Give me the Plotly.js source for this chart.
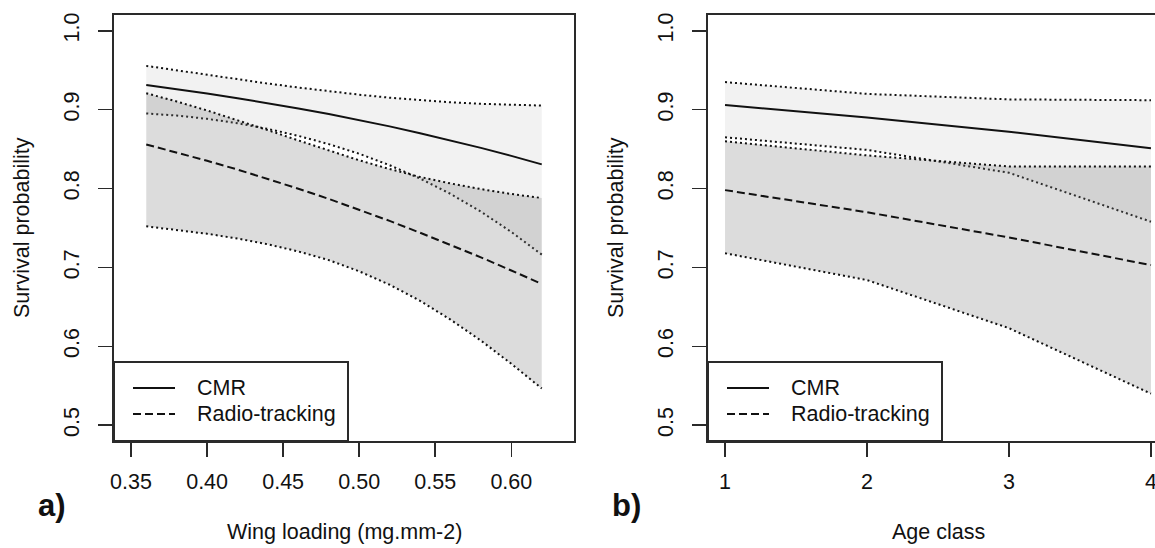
<!DOCTYPE html>
<html>
<head>
<meta charset="utf-8">
<script src="https://cdn.plot.ly/plotly-3.0.1.min.js"></script>
<style>html,body{margin:0;padding:0;background:#fff;}#chart{width:1155px;height:548px;}</style>
</head>
<body>
<div id="chart"></div>
<script>
// ---- Data ----
const wingX = [0.36, 0.38, 0.40, 0.42, 0.44, 0.46, 0.48, 0.50, 0.52, 0.54, 0.56, 0.58, 0.60, 0.62];
const cmrWingMean  = [0.9312, 0.9260, 0.9205, 0.9146, 0.9083, 0.9016, 0.8945, 0.8869, 0.8788, 0.8702, 0.8612, 0.8516, 0.8414, 0.8307];
const cmrWingUpper = [0.9555, 0.9497, 0.9440, 0.9384, 0.9331, 0.9281, 0.9234, 0.9190, 0.9152, 0.9120, 0.9093, 0.9074, 0.9060, 0.9052];
const cmrWingLower = [0.8952, 0.8925, 0.8884, 0.8828, 0.8756, 0.8668, 0.8563, 0.8441, 0.8296, 0.8127, 0.7933, 0.7707, 0.7450, 0.7163];
const rtWingMean   = [0.8559, 0.8459, 0.8352, 0.8241, 0.8122, 0.7998, 0.7869, 0.7731, 0.7590, 0.7440, 0.7287, 0.7128, 0.6961, 0.6792];
const rtWingUpper  = [0.9208, 0.9104, 0.8990, 0.8868, 0.8740, 0.8610, 0.8481, 0.8358, 0.8247, 0.8147, 0.8065, 0.7993, 0.7931, 0.7880];
const rtWingLower  = [0.7521, 0.7478, 0.7427, 0.7367, 0.7293, 0.7203, 0.7093, 0.6951, 0.6781, 0.6577, 0.6339, 0.6073, 0.5779, 0.5466];

const ageX = [1, 2, 3, 4];
const cmrAgeMean  = [0.906, 0.890, 0.872, 0.851];
const cmrAgeUpper = [0.935, 0.920, 0.913, 0.912];
const cmrAgeLower = [0.865, 0.849, 0.820, 0.758];
const rtAgeMean   = [0.798, 0.770, 0.738, 0.703];
const rtAgeUpper  = [0.860, 0.842, 0.828, 0.828];
const rtAgeLower  = [0.718, 0.684, 0.623, 0.540];

const wingTicks = [0.35, 0.40, 0.45, 0.50, 0.55, 0.60];
const ageTicks = [1, 2, 3, 4];
const yTicks = [0.5, 0.6, 0.7, 0.8, 0.9, 1.0];
const seriesNames = ['CMR', 'Radio-tracking'];
const xTitles = ['Wing loading (mg.mm-2)', 'Age class'];
const yTitle = 'Survival probability';
const panelLabels = ['a)', 'b)'];

// ---- Styling ----
const W = 1155, H = 548;
const FONT = 'Liberation Sans, Arial, sans-serif';
const FS = 21.5;
const INK = '#111';
const CMR_FILL = 'rgba(128,128,128,0.10)';
const RT_FILL = 'rgba(128,128,128,0.28)';
const DOT = '2px,3px';
const DASH = '8px,4px';
const px = v => v / W;
const py = v => 1 - v / H;

function band(x, up, lo, xa, ya, color) {
  return {x: x.concat(x.slice().reverse()), y: up.concat(lo.slice().reverse()),
    xaxis: xa, yaxis: ya, mode: 'lines', fill: 'toself', fillcolor: color,
    line: {width: 0}, hoverinfo: 'skip', showlegend: false};
}
function line(x, y, xa, ya, dash, name) {
  return {x: x, y: y, xaxis: xa, yaxis: ya, mode: 'lines', name: name,
    line: {color: INK, width: 2, dash: dash}, showlegend: false};
}

const traces = [];
function panel(x, cU, cM, cL, rU, rM, rL, xa, ya) {
  traces.push(band(x, cU, cL, xa, ya, CMR_FILL));
  traces.push(line(x, cU, xa, ya, DOT, 'CMR upper'));
  traces.push(line(x, cL, xa, ya, DOT, 'CMR lower'));
  traces.push(line(x, cM, xa, ya, 'solid', seriesNames[0]));
  traces.push(band(x, rU, rL, xa, ya, RT_FILL));
  traces.push(line(x, rU, xa, ya, DOT, 'RT upper'));
  traces.push(line(x, rL, xa, ya, DOT, 'RT lower'));
  traces.push(line(x, rM, xa, ya, DASH, seriesNames[1]));
}
panel(wingX, cmrWingUpper, cmrWingMean, cmrWingLower, rtWingUpper, rtWingMean, rtWingLower, 'x', 'y');
panel(ageX, cmrAgeUpper, cmrAgeMean, cmrAgeLower, rtAgeUpper, rtAgeMean, rtAgeLower, 'x2', 'y2');

const yDom = [py(441), py(15)];
const axCommon = {showgrid: false, zeroline: false, showline: true, linecolor: '#2a2a2a', linewidth: 2,
  ticks: 'outside', ticklen: 14, tickwidth: 1.6, tickcolor: '#2a2a2a', ticklabeloverflow: 'allow',
  tickfont: {family: FONT, size: FS, color: INK}};

const layout = {
  width: W, height: H, margin: {l: 0, r: 0, t: 0, b: 0},
  paper_bgcolor: '#fff', plot_bgcolor: '#fff', showlegend: false,
  font: {family: FONT, color: INK},
  xaxis: Object.assign({}, axCommon, {domain: [px(114), px(574)], range: [0.3388, 0.6412],
    tickvals: wingTicks, tickformat: '.2f', mirror: true, anchor: 'y', ticklabelstandoff: 6}),
  yaxis: Object.assign({}, axCommon, {domain: yDom, range: [0.48, 1.02], tickvals: yTicks,
    tickformat: '.1f', tickangle: -90, mirror: true, anchor: 'x', ticklabelstandoff: 10}),
  xaxis2: Object.assign({}, axCommon, {domain: [px(708), 1], range: [0.88, 4.0284],
    tickvals: ageTicks, mirror: true, anchor: 'y2', ticklabelstandoff: 6}),
  yaxis2: Object.assign({}, axCommon, {domain: yDom, range: [0.48, 1.02], tickvals: yTicks,
    tickformat: '.1f', tickangle: -90, mirror: false, anchor: 'x2', ticklabelstandoff: 10}),
  shapes: [], annotations: []
};

function ann(text, x, y, opts) {
  return Object.assign({text: text, x: px(x), y: py(y), xref: 'paper', yref: 'paper',
    showarrow: false, xanchor: 'center', yanchor: 'middle',
    font: {family: FONT, size: FS, color: INK}}, opts || {});
}

// Panel offsets (frame left edges)
const frames = [114, 708];
const xTitleCenters = [344, 938];
const labelX = [52, 626];
frames.forEach((fx, i) => {
  // legend box
  layout.shapes.push({type: 'rect', xref: 'paper', yref: 'paper', x0: px(fx), x1: px(fx + 234),
    y0: py(441), y1: py(362), line: {color: '#2a2a2a', width: 2}, fillcolor: '#fff', layer: 'above'});
  layout.shapes.push({type: 'line', xref: 'paper', yref: 'paper', x0: px(fx + 19), x1: px(fx + 61),
    y0: py(388), y1: py(388), line: {color: INK, width: 2}});
  layout.shapes.push({type: 'line', xref: 'paper', yref: 'paper', x0: px(fx + 19), x1: px(fx + 61),
    y0: py(414), y1: py(414), line: {color: INK, width: 2, dash: DASH}});
  layout.annotations.push(ann(seriesNames[0], fx + 81, 388, {xanchor: 'left'}));
  layout.annotations.push(ann(seriesNames[1], fx + 81, 414, {xanchor: 'left'}));
  // axis titles
  layout.annotations.push(ann(xTitles[i], xTitleCenters[i], 532));
  layout.annotations.push(ann(yTitle, fx - 92, 228, {textangle: -90}));
  // panel labels
  layout.annotations.push(ann('<b>' + panelLabels[i] + '</b>', labelX[i], 505,
    {font: {family: FONT, size: 31, color: INK}}));
});

Plotly.newPlot('chart', traces, layout, {staticPlot: true, displayModeBar: false});
</script>
</body>
</html>
